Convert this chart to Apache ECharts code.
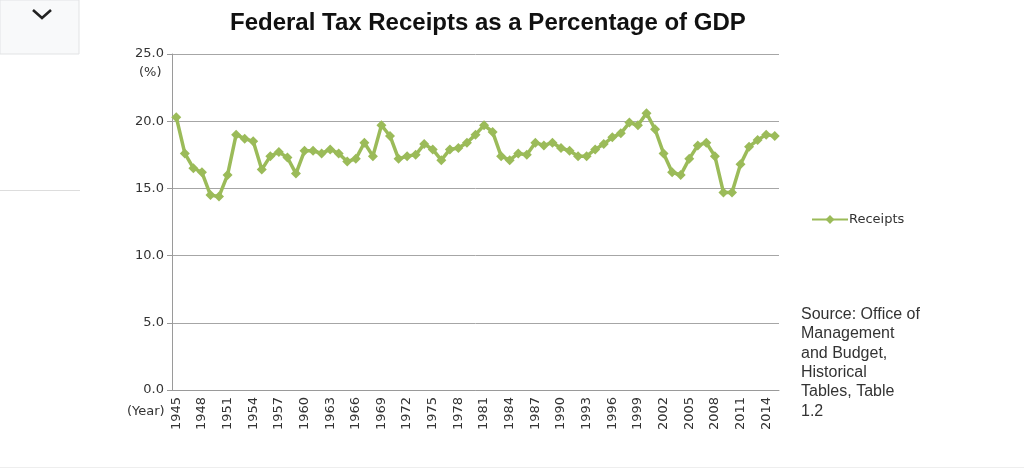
<!DOCTYPE html>
<html>
<head>
<meta charset="utf-8">
<script src="https://cdn.jsdelivr.net/npm/echarts@6/dist/echarts.min.js"></script>
<style>html,body{margin:0;padding:0;background:#fff}#c{width:1024px;height:471px}</style>
</head>
<body>
<div id="c"></div>
<script>
var years = [];
for (var y = 1945; y <= 2015; y++) years.push(String(y));
var receipts = [
  20.3, 17.6, 16.5, 16.2, 14.5, 14.4, 16.0, 19.0, 18.7, 18.5,
  16.4, 17.4, 17.7, 17.3, 16.1, 17.8, 17.8, 17.6, 17.9, 17.6,
  17.0, 17.2, 18.4, 17.4, 19.7, 18.9, 17.2, 17.4, 17.5, 18.3,
  17.9, 17.1, 17.9, 18.0, 18.4, 19.0, 19.7, 19.2, 17.4, 17.1,
  17.6, 17.5, 18.4, 18.2, 18.4, 18.0, 17.8, 17.4, 17.4, 17.9,
  18.3, 18.8, 19.1, 19.9, 19.7, 20.6, 19.4, 17.6, 16.2, 16.0,
  17.2, 18.2, 18.4, 17.4, 14.7, 14.7, 16.8, 18.1, 18.6, 19.0,
  18.9
];
var yTicks = [0, 5, 10, 15, 20, 25];
var titleText = 'Federal Tax Receipts as a Percentage of GDP';
var sourceText = 'Source: Office of\nManagement\nand Budget,\nHistorical\nTables, Table\n1.2';

var chart = echarts.init(document.getElementById('c'));
var tickFont = 'DejaVu Sans';
chart.setOption({
  animation: false,
  title: {
    text: titleText,
    left: 225, top: 6,
    textStyle: { fontFamily: 'Liberation Sans', fontWeight: 'bold', fontSize: 24, color: '#111' }
  },
  legend: {
    data: ['Receipts'],
    left: 806, top: 208,
    itemWidth: 36, itemHeight: 11, itemGap: 0,
    textStyle: { fontFamily: tickFont, fontSize: 13, color: '#333', padding: [0, 0, 0, -4] }
  },
  grid: { left: 172, right: 245, top: 54, bottom: 81 },
  xAxis: {
    type: 'category',
    data: years,
    boundaryGap: true,
    axisLine: { lineStyle: { color: '#9a9a9a', width: 1 } },
    axisTick: { interval: 0, length: 4, lineStyle: { color: '#9a9a9a' } },
    axisLabel: {
      interval: 2, rotate: 90, margin: 7,
      fontFamily: tickFont, fontSize: 13, color: '#333'
    },
    splitLine: { show: false }
  },
  yAxis: {
    type: 'value',
    min: yTicks[0], max: yTicks[yTicks.length - 1], interval: 5,
    axisLine: { show: true, lineStyle: { color: '#9a9a9a' } },
    axisTick: { show: true, length: 5, lineStyle: { color: '#9a9a9a' } },
    axisLabel: {
      margin: 8,
      fontFamily: tickFont, fontSize: 13, color: '#333',
      formatter: function (v) { return v.toFixed(1); }
    },
    splitLine: { lineStyle: { color: '#a6a6a6', width: 1 } }
  },
  series: [{
    name: 'Receipts',
    type: 'line',
    data: receipts,
    symbol: 'diamond',
    symbolSize: 10,
    showAllSymbol: true,
    lineStyle: { color: '#9bbb59', width: 3.5 },
    itemStyle: { color: '#9bbb59' }
  }],
  graphic: [
    { type: 'rect', shape: { x: 0, y: 0, width: 79, height: 54 },
      style: { fill: '#f8f9fa', stroke: '#e2e3e5', lineWidth: 1 } },
    { type: 'polyline', shape: { points: [[33, 10], [42, 18], [51, 10]] },
      style: { stroke: '#222', lineWidth: 2.6, fill: null } },
    { type: 'line', shape: { x1: 0, y1: 190.5, x2: 80, y2: 190.5 },
      style: { stroke: '#dddddd', lineWidth: 1 } },
    { type: 'line', shape: { x1: 0, y1: 467.5, x2: 1024, y2: 467.5 },
      style: { stroke: '#eeeeee', lineWidth: 1 } },
    { type: 'text', left: 139, top: 66,
      style: { text: '(%)', fontFamily: tickFont, fontSize: 13, fill: '#333' } },
    { type: 'text', left: 127, top: 405,
      style: { text: '(Year)', fontFamily: tickFont, fontSize: 13, fill: '#333' } },
    { type: 'text', left: 801, top: 305,
      style: { text: sourceText, fontFamily: 'Liberation Sans', fontSize: 16, lineHeight: 19.3, fill: '#333' } }
  ]
});
</script>
</body>
</html>
